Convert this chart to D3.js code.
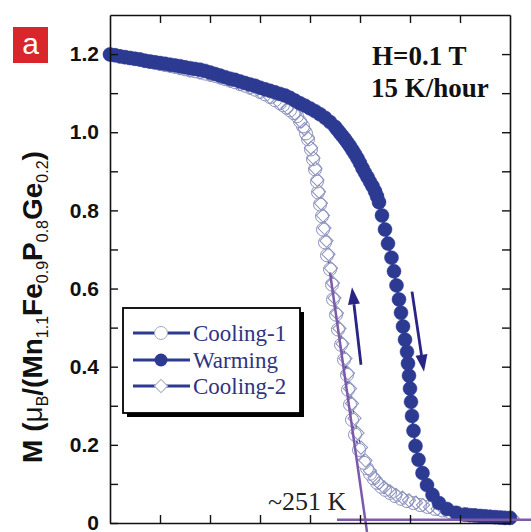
<!DOCTYPE html>
<html>
<head>
<meta charset="utf-8">
<script src="https://cdn.jsdelivr.net/npm/d3@7"></script>
<style>
  body { margin: 0; background: #fff; }
  svg { display: block; }
</style>
</head>
<body>
<div id="chart"></div>
<script>
// Warming (filled circles), T in K, M in muB per formula unit
const warmT = [200, 201, 202, 203, 204, 205, 206, 207, 208, 209, 210, 211, 212, 213, 214, 215, 216, 217, 218, 219,
  220, 221, 222, 223, 224, 225, 226, 227, 228, 229, 230, 231, 232, 233, 234, 235, 236, 237, 238, 239,
  240, 241, 242, 243, 244, 245, 245.5, 246, 246.5, 247, 247.5, 248, 248.5, 249, 249.5, 250, 250.5, 251, 251.5, 252,
  252.5, 253, 253.4, 253.8, 254.4, 255.0, 255.6, 256.3, 256.8, 257.3, 257.8, 258.2, 258.6, 259.0, 259.4, 259.6, 259.8, 260.0,
  260.2, 260.4, 260.7, 261.1, 261.7, 262.5, 263.4, 264.5, 265.8, 267.4, 269.2, 271, 272, 273, 274, 275, 276, 277, 278, 279, 280];
const warmM = [1.199, 1.197, 1.194, 1.192, 1.190, 1.188, 1.186, 1.183, 1.181, 1.179, 1.177, 1.175, 1.173, 1.171, 1.169, 1.166, 1.164, 1.162, 1.160, 1.157,
  1.153, 1.149, 1.145, 1.141, 1.137, 1.134, 1.130, 1.126, 1.122, 1.119, 1.114, 1.110, 1.106, 1.102, 1.098, 1.094, 1.088, 1.081, 1.074, 1.068,
  1.061, 1.054, 1.046, 1.037, 1.026, 1.014, 1.006, 0.998, 0.990, 0.982, 0.973, 0.964, 0.954, 0.944, 0.933, 0.921, 0.908, 0.896, 0.885, 0.873,
  0.862, 0.849, 0.836, 0.821, 0.787, 0.751, 0.715, 0.679, 0.644, 0.608, 0.572, 0.538, 0.503, 0.469, 0.438, 0.408, 0.377, 0.344,
  0.310, 0.274, 0.236, 0.197, 0.162, 0.128, 0.097, 0.072, 0.051, 0.036, 0.026, 0.021, 0.020, 0.019, 0.018, 0.017, 0.016, 0.015, 0.014, 0.013, 0.013];

// Cooling-1 (open circles)
const cool1T = [200, 201, 202, 203, 204, 205, 206, 207, 208, 209, 210, 211, 212, 213, 214, 215, 216, 217, 218, 219,
  220, 221, 222, 223, 224, 225, 226, 227, 228, 229, 230, 231, 232, 233, 234, 234.6, 235.3, 236.0, 236.7, 237.4,
  238.0, 238.6, 239.2, 239.6, 240.2, 240.6, 241.0, 241.4, 241.6, 242.0, 242.4, 242.6, 243.0, 243.4, 244.0, 244.4, 244.6, 245.2, 245.6, 246.2,
  246.8, 247.4, 247.6, 248.0, 248.4, 249.0, 249.8, 250.8, 251.4, 252.0, 252.7, 253.4, 254.2, 255.0, 256.0, 257.0, 258.2, 259.4, 260.7, 262.0,
  263.5, 265.0, 266.5, 268.0, 269.5, 271.0, 272.5, 274.0, 275.5, 277.0, 278.5, 280.0];
const cool1M = [1.199, 1.197, 1.195, 1.193, 1.190, 1.188, 1.186, 1.183, 1.180, 1.178, 1.175, 1.172, 1.170, 1.167, 1.164, 1.161, 1.158, 1.156, 1.153, 1.150,
  1.147, 1.144, 1.140, 1.136, 1.132, 1.128, 1.123, 1.119, 1.114, 1.109, 1.103, 1.097, 1.090, 1.082, 1.074, 1.069, 1.063, 1.056, 1.049, 1.041,
  1.028, 1.015, 0.997, 0.982, 0.956, 0.931, 0.905, 0.874, 0.846, 0.815, 0.785, 0.751, 0.718, 0.685, 0.649, 0.610, 0.572, 0.533, 0.495, 0.456,
  0.418, 0.379, 0.341, 0.303, 0.264, 0.226, 0.187, 0.154, 0.140, 0.126, 0.114, 0.103, 0.093, 0.085, 0.077, 0.069, 0.062, 0.056, 0.051, 0.046,
  0.041, 0.036, 0.032, 0.028, 0.025, 0.023, 0.020, 0.018, 0.016, 0.015, 0.014, 0.013];

// Cooling-2 (open diamonds)
const cool2T = [200, 202, 204, 206, 208, 210, 212, 214, 216, 218, 220, 222, 224, 226, 228, 230, 232, 234, 235.5, 237,
  238.2, 238.9, 239.6, 240.2, 240.7, 241.1, 241.5, 241.8, 242.2, 242.6, 242.9, 243.3, 243.7, 244.2, 244.6, 244.9, 245.4, 245.9, 246.5, 247.1,
  247.6, 248.0, 248.4, 248.9, 249.5, 250.2, 251.1, 252.0, 252.9, 253.8, 254.8, 256.0, 257.2, 258.5, 259.8, 261.2, 262.6, 264.0, 265.5, 267.0,
  268.5, 270.0, 271.5, 273.0, 274.5, 276.0, 277.5, 279.0, 280.5];
const cool2M = [1.199, 1.195, 1.190, 1.186, 1.180, 1.175, 1.170, 1.164, 1.158, 1.153, 1.147, 1.140, 1.132, 1.123, 1.114, 1.103, 1.090, 1.074, 1.062, 1.047,
  1.027, 1.008, 0.985, 0.960, 0.934, 0.907, 0.878, 0.848, 0.818, 0.787, 0.755, 0.722, 0.688, 0.652, 0.614, 0.576, 0.537, 0.498, 0.459, 0.421,
  0.383, 0.344, 0.306, 0.268, 0.230, 0.193, 0.160, 0.134, 0.116, 0.102, 0.091, 0.081, 0.072, 0.065, 0.058, 0.052, 0.046, 0.041, 0.036, 0.032,
  0.028, 0.025, 0.022, 0.020, 0.018, 0.016, 0.015, 0.014, 0.013];

// axis ticks
const xTicks = [210, 220, 230, 240, 250, 260, 270];
const yTicks = [0, 0.1, 0.2, 0.3, 0.4, 0.5, 0.6, 0.7, 0.8, 0.9, 1.0, 1.1, 1.2];
const yLabels = ["0", "", "0.2", "", "0.4", "", "0.6", "", "0.8", "", "1.0", "", "1.2"];

// annotation lines (tangent and baseline), arrows
const tangentT = [244.0, 251.4];
const tangentM = [0.641, -0.023];
const baseT = [245.4, 284.2];
const baseM = [0.008, 0.008];
const arrowUp = [[250.2, 0.405], [248.4, 0.603]];
const arrowDown = [[260.4, 0.592], [262.8, 0.387]];

const seriesNames = ["Cooling-1", "Warming", "Cooling-2"];

const width = 531;
const height = 532;
const margin = { top: 15, right: 21, bottom: 9, left: 110 };

const svg = d3.select("#chart")
  .append("svg")
  .attr("width", width)
  .attr("height", height);

const xScale = d3.scaleLinear().domain([200, 280]).range([margin.left, width - margin.right]);
const yScale = d3.scaleLinear().domain([0, 1.3]).range([height - margin.bottom, margin.top]);

const darkBlue = "#2d3a92";
const lightEdge = "#8c92bd";
const purple = "#7d5aa8";

const zip = (ts, ms) => ts.map((t, i) => [t, ms[i]]);
const warm = zip(warmT, warmM);
const cool1 = zip(cool1T, cool1M);
const cool2 = zip(cool2T, cool2M);

const line = d3.line().x(d => xScale(d[0])).y(d => yScale(d[1]));

// cooling lines under the markers
svg.append("path").datum(cool1).attr("fill", "none").attr("stroke", darkBlue).attr("stroke-width", 1.5).attr("d", line);
svg.append("path").datum(cool2).attr("fill", "none").attr("stroke", darkBlue).attr("stroke-width", 1.2).attr("d", line);

// cooling-1 open circles
svg.append("g").selectAll("circle").data(cool1.slice().reverse()).join("circle")
  .attr("cx", d => xScale(d[0])).attr("cy", d => yScale(d[1])).attr("r", 6.5)
  .attr("fill", "#fff").attr("stroke", lightEdge).attr("stroke-width", 1);

// cooling-2 open diamonds
const diamond = d3.symbol().type(d3.symbolSquare).size(88);
svg.append("g").selectAll("path").data(cool2).join("path")
  .attr("d", diamond)
  .attr("transform", d => `translate(${xScale(d[0])},${yScale(d[1])}) rotate(45)`)
  .attr("fill", "none").attr("stroke", lightEdge).attr("stroke-width", 1);

// warming filled circles
svg.append("path").datum(warm).attr("fill", "none").attr("stroke", darkBlue).attr("stroke-width", 2).attr("d", line);
svg.append("g").selectAll("circle").data(warm).join("circle")
  .attr("cx", d => xScale(d[0])).attr("cy", d => yScale(d[1])).attr("r", 7)
  .attr("fill", darkBlue).attr("stroke", darkBlue).attr("stroke-width", 0.5);

// purple guide lines
svg.append("path").datum(zip(tangentT, tangentM)).attr("fill", "none").attr("stroke", purple).attr("stroke-width", 2.5).attr("d", line);
svg.append("path").datum(zip(baseT, baseM)).attr("fill", "none").attr("stroke", purple).attr("stroke-width", 2.5).attr("d", line);

// arrows
const arrowColor = "#2a2482";
function drawArrow(pts) {
  const [x0, y0] = [xScale(pts[0][0]), yScale(pts[0][1])];
  const [x1, y1] = [xScale(pts[1][0]), yScale(pts[1][1])];
  const ang = Math.atan2(y1 - y0, x1 - x0);
  const len = 17, half = 6;
  const bx = x1 - len * Math.cos(ang), by = y1 - len * Math.sin(ang);
  svg.append("line")
    .attr("x1", x0).attr("y1", y0).attr("x2", bx).attr("y2", by)
    .attr("stroke", arrowColor).attr("stroke-width", 2.8);
  svg.append("path")
    .attr("d", `M${x1},${y1}L${bx - half * Math.sin(ang)},${by + half * Math.cos(ang)}L${bx + half * Math.sin(ang)},${by - half * Math.cos(ang)}Z`)
    .attr("fill", arrowColor);
}
drawArrow(arrowUp);
drawArrow(arrowDown);

// axes (ticks pointing inward)
const axisStyle = g => {
  g.select(".domain").attr("stroke", "#111").attr("stroke-width", 1.6);
  g.selectAll(".tick line").attr("stroke", "#111").attr("stroke-width", 1.4);
};
const x0 = margin.left, x1 = width - margin.right;
const y0 = height - margin.bottom, y1 = margin.top;

svg.append("g").attr("transform", `translate(0,${y0})`)
  .call(d3.axisBottom(xScale).tickValues(xTicks).tickSizeInner(-8).tickSizeOuter(0).tickFormat(""))
  .call(axisStyle);
svg.append("g").attr("transform", `translate(0,${y1})`)
  .call(d3.axisTop(xScale).tickValues(xTicks).tickSizeInner(-8).tickSizeOuter(0).tickFormat(""))
  .call(axisStyle);
svg.append("g").attr("transform", `translate(${x1},0)`)
  .call(d3.axisRight(yScale).tickValues(yTicks).tickSizeInner(-8).tickSizeOuter(0).tickFormat(""))
  .call(axisStyle);
const yAxis = svg.append("g").attr("transform", `translate(${x0},0)`)
  .call(d3.axisLeft(yScale).tickValues(yTicks).tickSizeInner(-8).tickSizeOuter(0).tickPadding(11)
    .tickFormat((d, i) => yLabels[i]))
  .call(axisStyle);
yAxis.selectAll(".tick text")
  .attr("fill", "#111")
  .style("font-family", "'Liberation Sans', Arial, sans-serif")
  .style("font-weight", "bold")
  .style("font-size", "21px");

// y-axis title
const title = svg.append("text")
  .attr("transform", "translate(42,307) rotate(-90)")
  .attr("text-anchor", "middle")
  .attr("fill", "#111")
  .style("font-family", "'Liberation Sans', Arial, sans-serif")
  .style("font-weight", "bold")
  .style("font-size", "28px");
const parts = [
  ["M (", 0], ["\u03bc", 0, "normal"], ["B", 1], ["/(Mn", 0], ["1.1", 1], ["Fe", 0], ["0.9", 1],
  ["P", 0], ["0.8", 1], ["Ge", 0], ["0.2", 1], [")", 0]
];
let shifted = false;
parts.forEach(p => {
  const t = title.append("tspan").text(p[0]);
  if (p[1]) {
    t.attr("dy", shifted ? 0 : 6).style("font-size", "16px").style("font-weight", "normal");
    shifted = true;
  } else {
    if (shifted) t.attr("dy", -6);
    shifted = false;
    if (p[2]) t.style("font-weight", p[2]);
  }
});

// panel label
svg.append("rect").attr("x", 13).attr("y", 27).attr("width", 35).attr("height", 36).attr("fill", "#d8262b");
svg.append("text").attr("x", 30.5).attr("y", 54).attr("text-anchor", "middle")
  .attr("fill", "#fff")
  .style("font-family", "'Liberation Sans', Arial, sans-serif")
  .style("font-size", "30px")
  .text("a");

// field and rate
const serifBold = g => g.attr("fill", "#111")
  .style("font-family", "'Liberation Serif', 'Times New Roman', serif")
  .style("font-weight", "bold")
  .style("font-size", "27px");
svg.append("text").attr("x", 372).attr("y", 65).call(serifBold).text("H=0.1 T");
svg.append("text").attr("x", 371).attr("y", 97).call(serifBold).text("15 K/hour");

// transition temperature label
svg.append("text").attr("x", 268).attr("y", 510)
  .attr("fill", "#222")
  .style("font-family", "'Liberation Serif', 'Times New Roman', serif")
  .style("font-size", "26px")
  .text("~251 K");

// legend
const legend = svg.append("g");
legend.append("rect").attr("x", 127).attr("y", 312).attr("width", 177).attr("height", 105).attr("fill", "#000");
legend.append("rect").attr("x", 123).attr("y", 308).attr("width", 177).attr("height", 105)
  .attr("fill", "#fff").attr("stroke", "#000").attr("stroke-width", 1.8);
const rowY = [333, 360, 386];
seriesNames.forEach((name, i) => {
  const yy = rowY[i];
  legend.append("line").attr("x1", 133).attr("x2", 190).attr("y1", yy).attr("y2", yy)
    .attr("stroke", darkBlue).attr("stroke-width", 3);
  if (i === 0) {
    legend.append("circle").attr("cx", 161).attr("cy", yy).attr("r", 6.5)
      .attr("fill", "#fff").attr("stroke", "#a3a8c8");
  } else if (i === 1) {
    legend.append("circle").attr("cx", 161).attr("cy", yy).attr("r", 6.5).attr("fill", darkBlue);
  } else {
    legend.append("path").attr("d", diamond)
      .attr("transform", `translate(161,${yy}) rotate(45)`)
      .attr("fill", "#fff").attr("stroke", "#a3a8c8");
  }
  legend.append("text").attr("x", 193).attr("y", yy + 8)
    .attr("fill", "#2e3480")
    .style("font-family", "'Liberation Serif', 'Times New Roman', serif")
    .style("font-size", "23px")
    .text(name);
});
</script>
</body>
</html>
